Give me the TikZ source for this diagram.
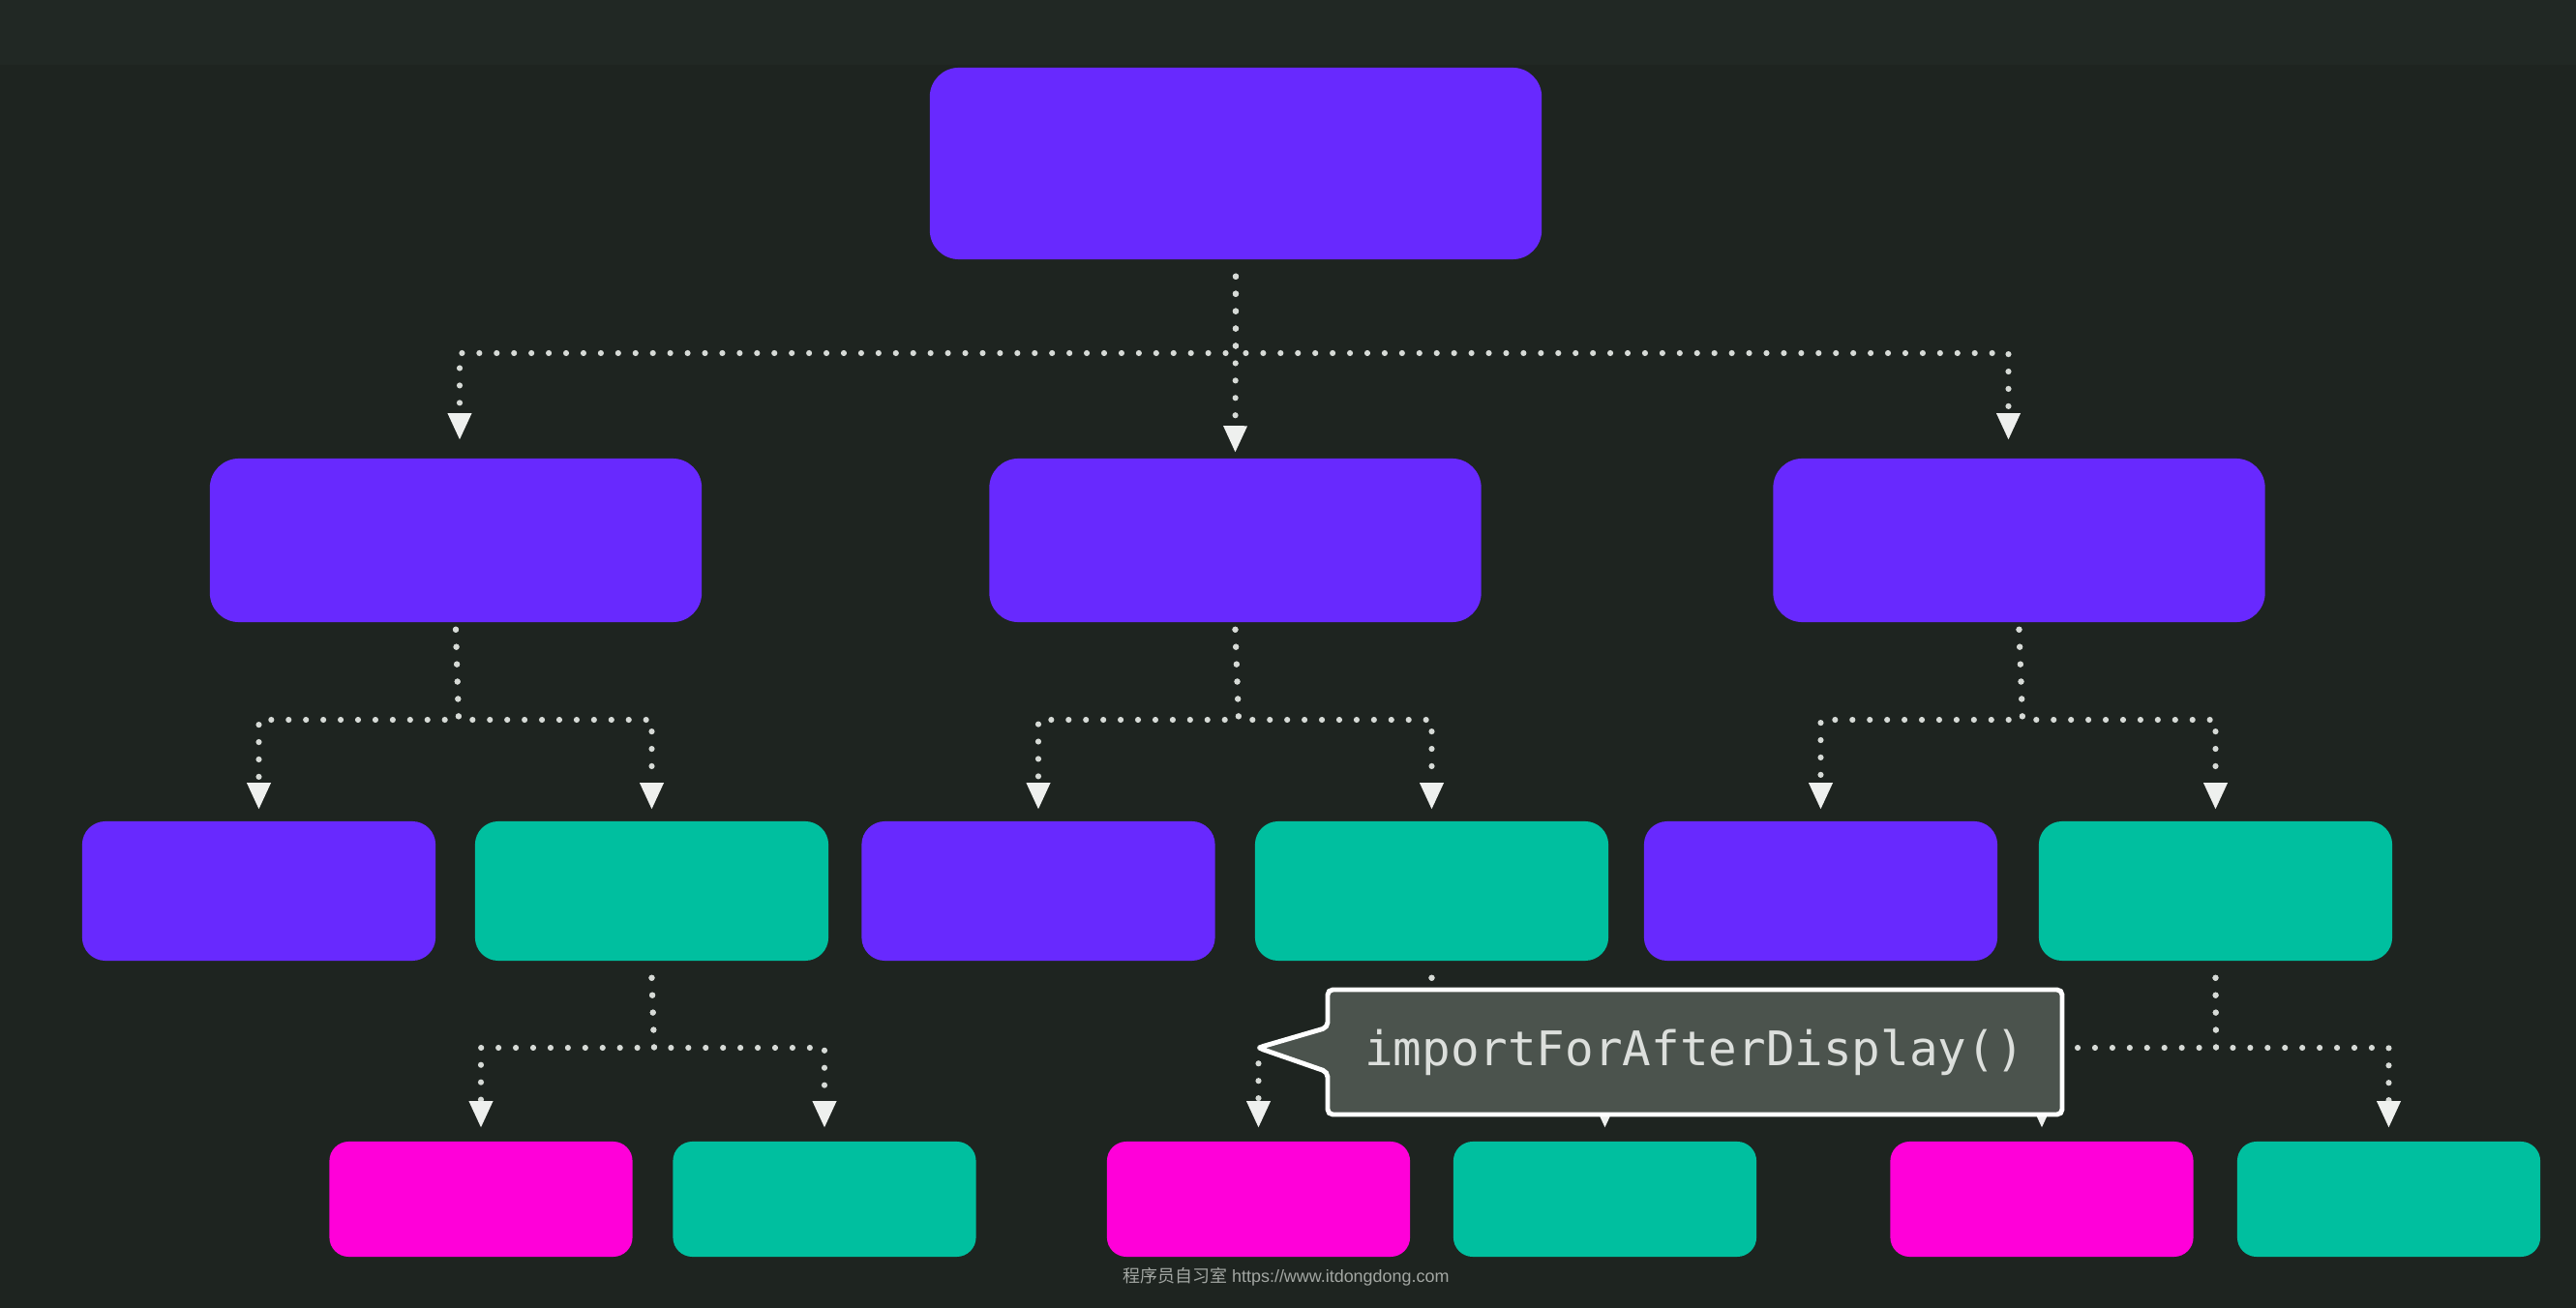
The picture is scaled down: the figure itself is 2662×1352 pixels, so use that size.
\documentclass[tikz,border=0pt]{standalone}
\usepackage{fontspec}
\setmainfont{Liberation Sans}
\newfontfamily\cjk{Noto Sans CJK SC}
\newfontfamily\codefont{DejaVu Sans Mono}
\usetikzlibrary{arrows.meta,calc}
\definecolor{bg}{HTML}{1E2420}
\definecolor{band}{HTML}{212824}
\definecolor{purp}{HTML}{6829FE}
\definecolor{teal}{HTML}{00BF9F}
\definecolor{magen}{HTML}{FF00D9}
\definecolor{dotc}{HTML}{D6DAD6}
\definecolor{arrc}{HTML}{EEF0EE}
\definecolor{callfill}{HTML}{4B534D}
\definecolor{calltext}{HTML}{DCDFDC}
\definecolor{wmc}{HTML}{A3A7A3}
\begin{document}
\begin{tikzpicture}[x=0.01cm,y=-0.01cm,
  box/.style={rounded corners=0.3cm, inner sep=0pt, draw=none},
  bigbox/.style={box, minimum width=6.32cm, minimum height=1.98cm},
  midbox/.style={box, minimum width=5.08cm, minimum height=1.69cm},
  smallbox/.style={box, minimum width=3.65cm, minimum height=1.44cm, rounded corners=0.24cm},
  leafbox/.style={box, minimum width=3.13cm, minimum height=1.19cm, rounded corners=0.2cm},
  link/.style={draw=dotc, line width=1.75pt, line cap=round, dash pattern=on 0pt off 5.1pt,
    -{Triangle[width=0.25cm,length=0.27cm,fill=arrc,color=arrc,line width=0pt]}},
  callout/.style={draw=white, line width=1.4pt, fill=callfill, rounded corners=1.5pt},
]
\useasboundingbox (0,0) rectangle (2662,1352);
\fill[bg] (0,0) rectangle (2662,1352);
\fill[band] (0,0) rectangle (2662,67);

% level 1
\node[bigbox, fill=purp] (top) at (1277,169) {};
% level 2
\node[midbox, fill=purp] (a) at (471,558.5) {};
\node[midbox, fill=purp] (b) at (1276.5,558.5) {};
\node[midbox, fill=purp] (c) at (2086.5,558.5) {};
% level 3
\node[smallbox, fill=purp] (a1) at (267.5,921) {};
\node[smallbox, fill=teal] (a2) at (673.5,921) {};
\node[smallbox, fill=purp] (b1) at (1073,921) {};
\node[smallbox, fill=teal] (b2) at (1479.5,921) {};
\node[smallbox, fill=purp] (c1) at (1881.5,921) {};
\node[smallbox, fill=teal] (c2) at (2289.5,921) {};
% level 4
\node[leafbox, fill=magen] (a21) at (497,1239.5) {};
\node[leafbox, fill=teal] (a22) at (852,1239.5) {};
\node[leafbox, fill=magen] (b21) at (1300.5,1239.5) {};
\node[leafbox, fill=teal] (b22) at (1658.5,1239.5) {};
\node[leafbox, fill=magen] (c21) at (2110,1239.5) {};
\node[leafbox, fill=teal] (c22) at (2468.5,1239.5) {};

% hubs
\coordinate (h0) at (1277,365);
\coordinate (ha) at (474,744);
\coordinate (hb) at (1280,744);
\coordinate (hc) at (2090,744);
\coordinate (ha2) at (676,1083);
\coordinate (hb2) at (1481,1083);
\coordinate (hc2) at (2290,1083);

% level 1 -> 2
\draw[link] ([yshift=-0.17cm]top.south) -- (h0) -| ([xshift=0.04cm,yshift=0.19cm]a.north);
\draw[link] ([yshift=-0.17cm]top.south) -- ([yshift=0.06cm]b.north);
\draw[link] ([yshift=-0.17cm]top.south) -- (h0) -| ([xshift=-0.11cm,yshift=0.19cm]c.north);
% level 2 -> 3
\draw[link] ([yshift=-0.07cm]a.south) -- (ha) -| ([yshift=0.12cm]a1.north);
\draw[link] ([yshift=-0.07cm]a.south) -- (ha) -| ([yshift=0.12cm]a2.north);
\draw[link] ([yshift=-0.07cm]b.south) -- (hb) -| ([yshift=0.12cm]b1.north);
\draw[link] ([yshift=-0.07cm]b.south) -- (hb) -| ([yshift=0.12cm]b2.north);
\draw[link] ([yshift=-0.07cm]c.south) -- (hc) -| ([yshift=0.12cm]c1.north);
\draw[link] ([yshift=-0.07cm]c.south) -- (hc) -| ([yshift=0.12cm]c2.north);
% level 3 -> 4
\draw[link] ([yshift=-0.17cm]a2.south) -- (ha2) -| ([yshift=0.14cm]a21.north);
\draw[link] ([yshift=-0.17cm]a2.south) -- (ha2) -| ([yshift=0.14cm]a22.north);
\draw[link] ([yshift=-0.17cm]b2.south) -- (hb2) -| ([yshift=0.14cm]b21.north);
\draw[link] ([yshift=-0.17cm]b2.south) -- (hb2) -| ([yshift=0.14cm]b22.north);
\draw[link] ([yshift=-0.17cm]c2.south) -- (hc2) -| ([yshift=0.14cm]c21.north);
\draw[link] ([yshift=-0.17cm]c2.south) -- (hc2) -| ([yshift=0.14cm]c22.north);

% callout
\draw[callout] (1372,1023) -- (2131,1023) -- (2131,1152) -- (1372,1152) -- (1372,1108)
  -- (1300,1083) -- (1372,1062) -- cycle;
\node[text=calltext, font=\codefont\fontsize{14}{16}\selectfont, inner sep=0pt]
  (call) at (1751,1088) {importForAfterDisplay()};

% watermark
\node[text=wmc, font=\fontsize{5.1}{6}\selectfont, inner sep=0pt]
  (wm) at (1329,1320) {{\cjk 程序员自习室} https://www.itdongdong.com};
\end{tikzpicture}
\end{document}
